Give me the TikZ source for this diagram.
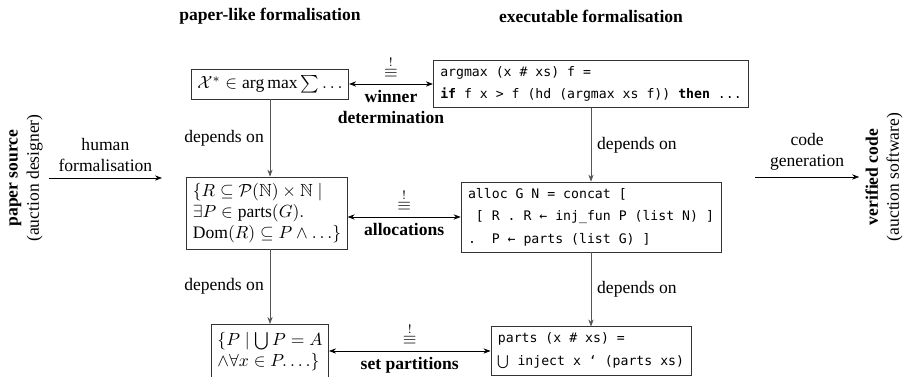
\documentclass[tikz,border=0pt]{standalone}
\usepackage{amsmath,amssymb}
\usepackage{fontspec}
\setmainfont{Liberation Serif}
\setmonofont{DejaVu Sans Mono}
\usepackage{tikz}
\usetikzlibrary{positioning,arrows.meta}
\definecolor{dep}{HTML}{555555}
\newcommand{\isacode}{\fontsize{7.5}{12.8}\selectfont\ttfamily}
\newcommand{\teq}{$\overset{!}{\equiv}$}

\begin{document}
\begin{tikzpicture}[x=0.02cm,y=-0.02cm,
    stage/.style={draw=black!80,thin,inner sep=3.5pt,align=left},
    code/.style={stage,font=\isacode,inner xsep=4pt},
    link/.style={{Stealth[length=4pt,width=3pt]}-{Stealth[length=4pt,width=3pt]}},
    flow/.style={-{Stealth[length=4pt,width=3pt]}},
    dependson/.style={flow,dep},
    lbl/.style={font=\bfseries,align=center}]
  \useasboundingbox (0,0) rectangle (904,377);
  % column headers
  \node[font=\bfseries] (hdL) at (270,16) {paper-like formalisation};
  \node[font=\bfseries] (hdR) at (591,16) {executable formalisation};
  % paper-like side
  \node[stage] (winL) at (270,84) {$\mathcal{X}^*\in\mathop{\mathrm{arg\,max}}\sum\ldots$};
  \node[stage] (allocL) at (267,213) {$\{R\subseteq\mathcal{P}(\mathbb{N})\times\mathbb{N}\mid$\\
    $\exists P\in\mathrm{parts}(G).$\\
    $\mathrm{Dom}(R)\subseteq P\wedge\ldots\}$};
  \node[stage,anchor=north,inner ysep=4.5pt] (partL) at (270,324) {$\{P\mid\bigcup P=A$\\
    $\wedge\forall x\in P.\ldots\}$};
  % executable side
  \node[code] (winR) at (591,84) {argmax (x \# xs) f =\\
    \textbf{if} f x > f (hd (argmax xs f)) \textbf{then} ...};
  \node[code] (allocR) at (591,217) {alloc G N = concat [\\
    \ [ R . R ← inj\_fun P (list N) ]\\
    .\ \ P ← parts (list G) ]};
  \node[code] (partR) at (591,351) {parts (x \# xs) =\\
    $\bigcup$ inject x ‘ (parts xs)};
  % source and target
  \node[rotate=90,align=center] (src) at (26,178) {\textbf{paper source}\\(auction designer)};
  \node[rotate=90,align=center] (tgt) at (884,177) {\textbf{verified code}\\(auction software)};
  \coordinate (humanEnd) at (162,178);
  \coordinate (genStart) at (755,177);
  % connectors
  \draw[flow] (src.south) -- (humanEnd) node[midway,above,align=center] {human\\formalisation};
  \draw[flow] (genStart) -- (genStart -| tgt.north) node[midway,above,align=center] {code\\generation};
  \draw[link] (winL) -- (winR) node[midway,above] {\teq} node[midway,below,lbl] {winner\\determination};
  \draw[link] (allocL.east |- allocR.west) -- (allocR.west) node[midway,above] {\teq} node[midway,below,lbl] {allocations};
  \draw[link] (partL.east |- partR.west) -- (partR.west) node[midway,above] {\teq} node[midway,below,lbl] {set partitions};
  \draw[dependson] (winL.south) -- (winL.south |- allocL.north) node[midway,left,black] {depends on};
  \draw[dependson] (allocL.south -| winL.south) -- (partL.north) node[midway,left,black] {depends on};
  \draw[dependson] (winR) -- (allocR) node[midway,right,black] {depends on};
  \draw[dependson] (allocR) -- (partR) node[midway,right,black] {depends on};
\end{tikzpicture}
\end{document}
